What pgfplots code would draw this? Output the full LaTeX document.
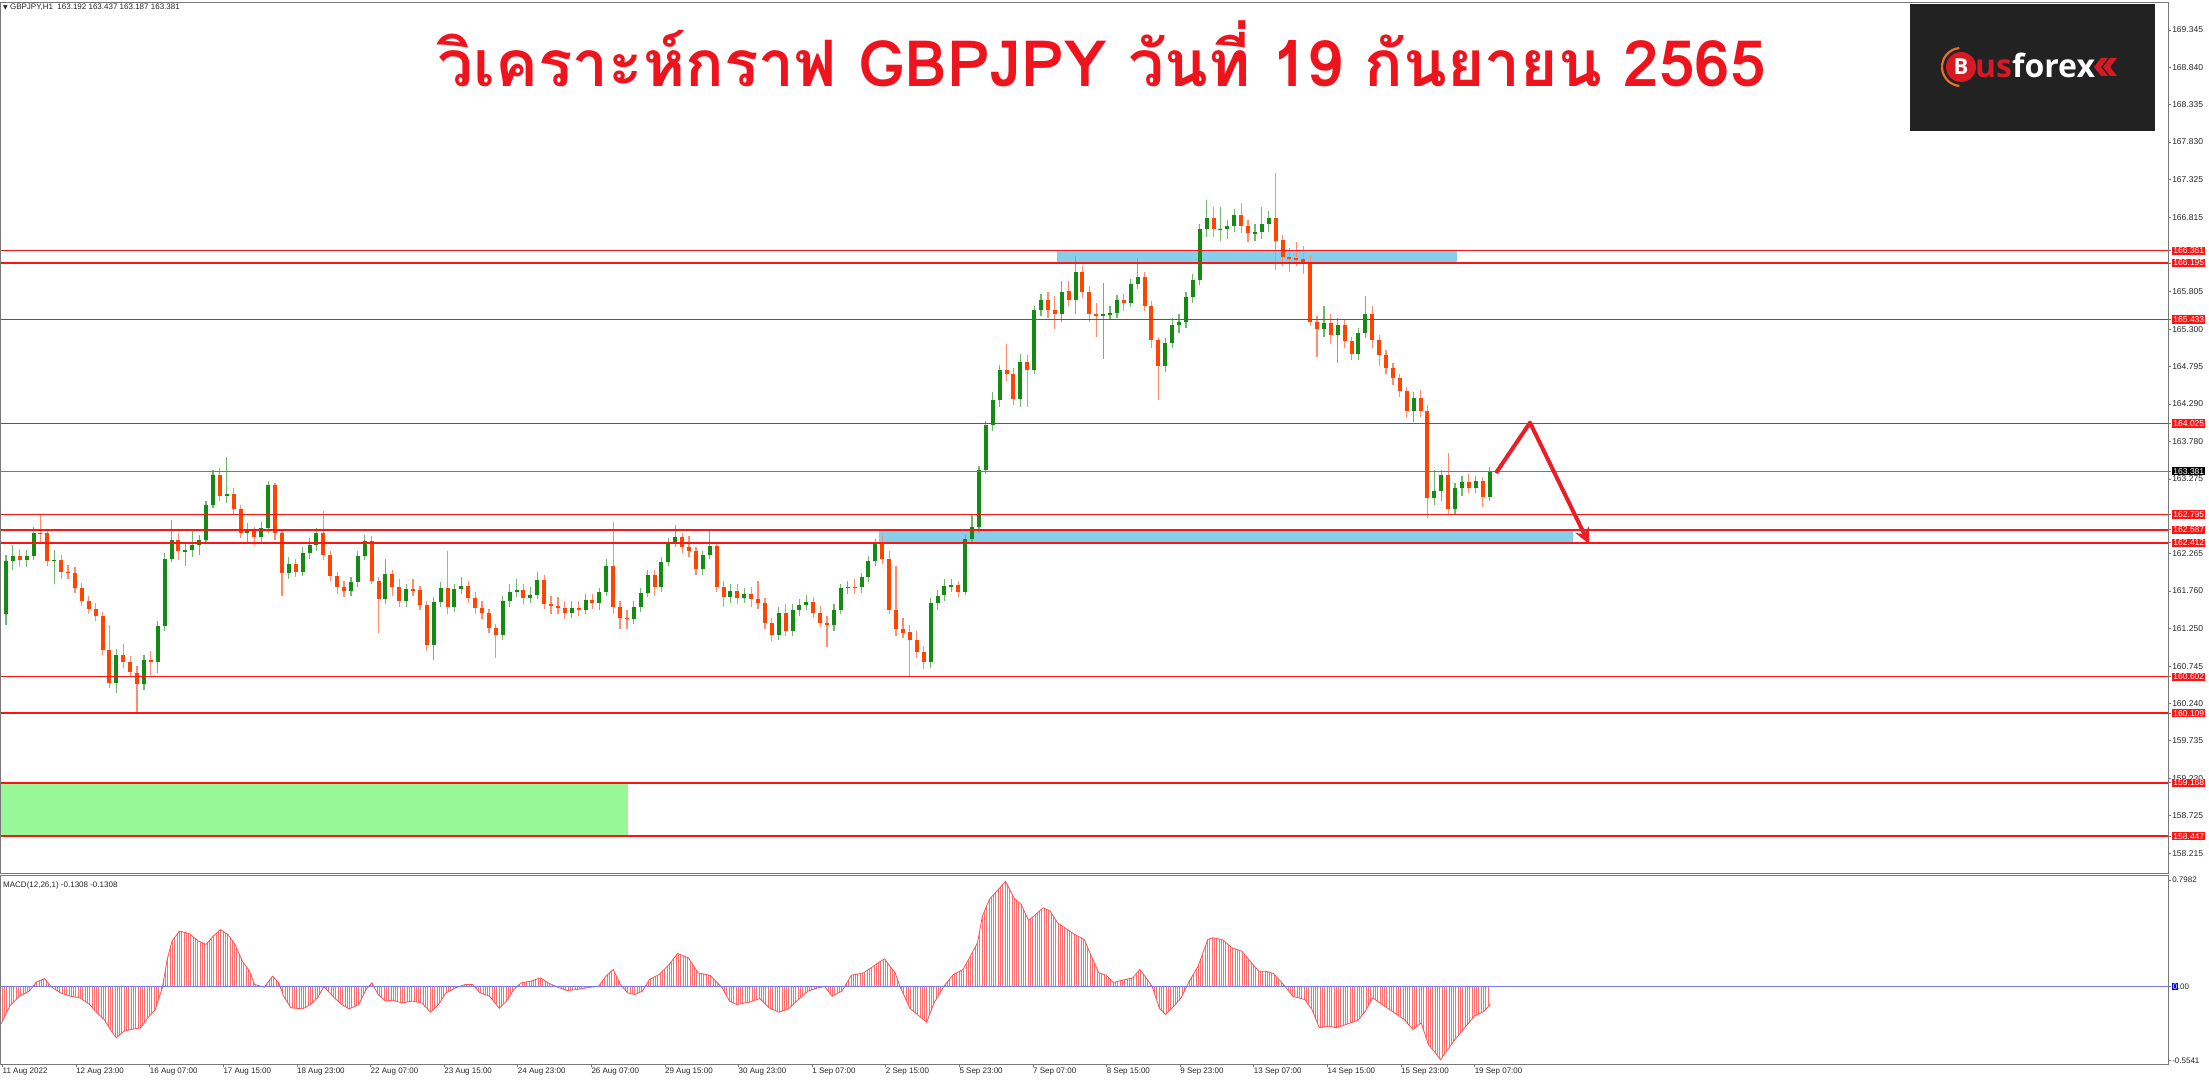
\documentclass[border=0pt]{standalone}
\usepackage{fontspec}
\setmainfont{Liberation Sans}
\newfontfamily\thaifont[Script=Thai]{Loma}
\newfontfamily\djv{DejaVu Sans}
\newfontfamily\logofont{Open Sans}
\usepackage{pgfplots}
\usepackage{pgfplotstable}
\pgfplotsset{compat=1.18}
\usetikzlibrary{arrows.meta,patterns.meta}

\definecolor{bull}{RGB}{20,140,20}
\definecolor{bullwick}{RGB}{110,185,110}
\definecolor{bear}{RGB}{255,69,0}
\definecolor{bearwick}{RGB}{255,140,110}
\definecolor{lvl}{RGB}{255,20,20}
\definecolor{zoneblue}{RGB}{135,206,235}
\definecolor{zonegreen}{RGB}{152,248,152}
\definecolor{frm}{RGB}{120,120,120}
\definecolor{macdline}{RGB}{255,80,80}
\definecolor{macdhatch}{RGB}{255,110,110}
\definecolor{zeroline}{RGB}{120,120,255}
\definecolor{titlered}{RGB}{238,20,30}
\definecolor{logobg}{RGB}{34,34,34}
\definecolor{logored}{RGB}{215,25,35}
\definecolor{logoorange}{RGB}{230,110,40}
\definecolor{arrowred}{RGB}{235,30,40}

\newcommand{\rl}[1]{{\setlength{\fboxsep}{1.2pt}\colorbox{lvl}{\textcolor{white}{#1}}}}
\newcommand{\bl}[1]{{\setlength{\fboxsep}{1.2pt}\colorbox{black}{\textcolor{white}{#1}}}}

\pgfplotstableread{
x o h l c
1.5 161.45 162.25 161.30 162.17
4.5 162.17 162.38 162.05 162.24
7.5 162.24 162.33 162.08 162.18
10.5 162.18 162.32 162.08 162.24
13.5 162.24 162.62 162.18 162.55
16.5 162.55 162.80 162.42 162.54
19.5 162.54 162.60 162.10 162.17
22.5 162.17 162.32 161.85 162.18
25.5 162.18 162.25 161.92 162.02
28.5 162.02 162.12 161.93 162.01
31.5 162.01 162.08 161.74 161.80
34.5 161.80 161.87 161.56 161.63
37.5 161.63 161.70 161.45 161.52
40.5 161.52 161.60 161.36 161.42
43.5 161.42 161.48 160.90 160.96
46.5 160.96 161.30 160.45 160.52
49.5 160.52 160.98 160.38 160.90
52.5 160.90 161.05 160.72 160.80
55.5 160.80 160.88 160.60 160.66
58.5 160.66 160.75 160.11 160.50
61.5 160.50 160.90 160.42 160.83
64.5 160.83 160.95 160.62 160.80
67.5 160.80 161.35 160.65 161.29
70.5 161.29 162.28 161.22 162.20
73.5 162.20 162.72 162.15 162.45
76.5 162.45 162.55 162.18 162.30
79.5 162.30 162.42 162.10 162.31
82.5 162.31 162.58 162.22 162.39
85.5 162.39 162.52 162.25 162.45
88.5 162.45 162.98 162.40 162.92
91.5 162.92 163.40 162.88 163.33
94.5 163.33 163.42 162.98 163.05
97.5 163.05 163.58 162.95 163.07
100.5 163.07 163.15 162.80 162.87
103.5 162.87 162.92 162.48 162.54
106.5 162.54 162.68 162.42 162.57
109.5 162.57 162.62 162.38 162.49
112.5 162.49 162.70 162.40 162.61
115.5 162.61 163.25 162.55 163.20
118.5 163.20 163.22 162.45 162.55
121.5 162.55 162.60 161.70 162.00
124.5 162.00 162.22 161.92 162.13
127.5 162.13 162.20 161.95 162.02
130.5 162.02 162.35 161.97 162.28
133.5 162.28 162.48 162.20 162.38
136.5 162.38 162.62 162.30 162.55
139.5 162.55 162.84 162.18 162.25
142.5 162.25 162.30 161.90 161.97
145.5 161.97 162.02 161.72 161.82
148.5 161.82 161.90 161.68 161.76
151.5 161.76 161.95 161.70 161.88
154.5 161.88 162.30 161.82 162.23
157.5 162.23 162.52 162.18 162.44
160.5 162.44 162.50 161.85 161.90
163.5 161.90 161.95 161.20 161.65
166.5 161.65 162.20 161.58 161.99
169.5 161.99 162.05 161.70 161.81
172.5 161.81 161.92 161.55 161.62
175.5 161.62 161.86 161.55 161.79
178.5 161.79 161.92 161.70 161.77
181.5 161.77 161.83 161.50 161.57
184.5 161.57 161.62 160.95 161.03
187.5 161.03 161.68 160.83 161.61
190.5 161.61 161.88 161.55 161.80
193.5 161.80 162.30 161.45 161.55
196.5 161.55 161.85 161.48 161.79
199.5 161.79 161.95 161.72 161.83
202.5 161.83 161.90 161.60 161.67
205.5 161.67 161.75 161.45 161.53
208.5 161.53 161.62 161.38 161.46
211.5 161.46 161.52 161.20 161.26
214.5 161.26 161.32 160.85 161.17
217.5 161.17 161.70 161.10 161.62
220.5 161.62 161.85 161.55 161.75
223.5 161.75 161.92 161.68 161.77
226.5 161.77 161.85 161.58 161.67
229.5 161.67 161.82 161.60 161.71
232.5 161.71 162.02 161.65 161.91
235.5 161.91 161.98 161.52 161.58
238.5 161.58 161.70 161.45 161.56
241.5 161.56 161.68 161.45 161.53
244.5 161.53 161.62 161.38 161.46
247.5 161.46 161.62 161.40 161.53
250.5 161.53 161.63 161.42 161.51
253.5 161.51 161.72 161.45 161.64
256.5 161.64 161.72 161.52 161.60
259.5 161.60 161.80 161.50 161.75
262.5 161.75 162.20 161.70 162.10
265.5 162.10 162.70 161.45 161.55
268.5 161.55 161.62 161.25 161.40
271.5 161.40 161.50 161.25 161.39
274.5 161.39 161.62 161.32 161.54
277.5 161.54 161.80 161.48 161.73
280.5 161.73 162.05 161.68 161.98
283.5 161.98 162.05 161.70 161.82
286.5 161.82 162.22 161.75 162.15
289.5 162.15 162.48 162.10 162.41
292.5 162.41 162.65 162.35 162.49
295.5 162.49 162.55 162.28 162.36
298.5 162.36 162.50 162.22 162.30
301.5 162.30 162.35 161.98 162.06
304.5 162.06 162.30 161.98 162.25
307.5 162.25 162.60 162.20 162.37
310.5 162.37 162.42 161.75 161.82
313.5 161.82 161.90 161.55 161.68
316.5 161.68 161.85 161.60 161.76
319.5 161.76 161.86 161.58 161.67
322.5 161.67 161.80 161.60 161.72
325.5 161.72 161.82 161.55 161.65
328.5 161.65 161.90 161.52 161.60
331.5 161.60 161.66 161.25 161.33
334.5 161.33 161.40 161.08 161.17
337.5 161.17 161.55 161.10 161.47
340.5 161.47 161.58 161.15 161.22
343.5 161.22 161.58 161.15 161.50
346.5 161.50 161.65 161.42 161.57
349.5 161.57 161.70 161.50 161.61
352.5 161.61 161.68 161.40 161.47
355.5 161.47 161.56 161.28 161.33
358.5 161.33 161.42 161.00 161.30
361.5 161.30 161.58 161.22 161.50
364.5 161.50 161.86 161.45 161.80
367.5 161.80 161.90 161.72 161.82
370.5 161.82 161.92 161.72 161.81
373.5 161.81 162.00 161.74 161.95
376.5 161.95 162.24 161.88 162.17
379.5 162.17 162.46 162.10 162.40
382.5 162.40 162.52 162.12 162.20
385.5 162.20 162.30 161.45 161.50
388.5 161.50 162.10 161.15 161.25
391.5 161.25 161.40 161.12 161.20
394.5 161.20 161.30 160.61 161.10
397.5 161.10 161.22 160.85 160.94
400.5 160.94 161.02 160.70 160.80
403.5 160.80 161.66 160.72 161.60
406.5 161.60 161.78 161.50 161.70
409.5 161.70 161.92 161.62 161.83
412.5 161.83 161.92 161.75 161.84
415.5 161.84 161.90 161.68 161.75
418.5 161.75 162.52 161.70 162.47
421.5 162.47 162.80 162.42 162.63
424.5 162.63 163.45 162.55 163.40
427.5 163.40 164.06 163.35 164.00
430.5 164.00 164.45 163.92 164.34
433.5 164.34 164.82 164.25 164.75
436.5 164.75 165.10 164.60 164.70
439.5 164.70 164.78 164.28 164.35
442.5 164.35 164.97 164.25 164.85
445.5 164.85 164.95 164.25 164.75
448.5 164.75 165.62 164.70 165.56
451.5 165.56 165.78 165.48 165.69
454.5 165.69 165.80 165.45 165.56
457.5 165.56 165.75 165.30 165.50
460.5 165.50 165.95 165.40 165.81
463.5 165.81 165.95 165.62 165.70
466.5 165.70 166.29 165.50 166.08
469.5 166.08 166.15 165.72 165.80
472.5 165.80 165.88 165.40 165.50
475.5 165.50 165.65 165.20 165.49
478.5 165.49 165.92 164.90 165.50
481.5 165.50 165.62 165.42 165.52
484.5 165.52 165.76 165.45 165.69
487.5 165.69 165.78 165.55 165.66
490.5 165.66 165.98 165.60 165.91
493.5 165.91 166.26 165.85 166.00
496.5 166.00 166.08 165.55 165.62
499.5 165.62 165.68 165.05 165.15
502.5 165.15 165.20 164.35 164.80
505.5 164.80 165.18 164.72 165.12
508.5 165.12 165.45 165.05 165.36
511.5 165.36 165.50 165.25 165.40
514.5 165.40 165.80 165.32 165.73
517.5 165.73 166.05 165.66 165.97
520.5 165.97 166.72 165.90 166.65
523.5 166.65 167.05 166.55 166.80
526.5 166.80 166.95 166.55 166.65
529.5 166.65 166.95 166.50 166.66
532.5 166.66 166.78 166.52 166.70
535.5 166.70 166.92 166.62 166.84
538.5 166.84 167.00 166.60 166.70
541.5 166.70 166.78 166.48 166.60
544.5 166.60 166.72 166.50 166.61
547.5 166.61 166.95 166.52 166.72
550.5 166.72 166.90 166.62 166.80
553.5 166.80 167.41 166.10 166.50
556.5 166.50 166.58 166.15 166.28
559.5 166.28 166.40 166.08 166.26
562.5 166.26 166.48 166.15 166.25
565.5 166.25 166.42 166.05 166.20
568.5 166.20 166.30 165.35 165.40
571.5 165.40 165.48 164.93 165.30
574.5 165.30 165.62 165.20 165.39
577.5 165.39 165.50 165.10 165.22
580.5 165.22 165.45 164.85 165.36
583.5 165.36 165.42 165.05 165.14
586.5 165.14 165.20 164.88 164.96
589.5 164.96 165.32 164.88 165.25
592.5 165.25 165.75 165.18 165.50
595.5 165.50 165.62 165.05 165.16
598.5 165.16 165.22 164.80 164.95
601.5 164.95 165.02 164.70 164.78
604.5 164.78 164.85 164.55 164.64
607.5 164.64 164.70 164.38 164.46
610.5 164.46 164.52 164.12 164.20
613.5 164.20 164.45 164.05 164.37
616.5 164.37 164.48 164.12 164.20
619.5 164.20 164.28 162.75 163.02
622.5 163.02 163.40 162.92 163.11
625.5 163.11 163.40 162.98 163.33
628.5 163.33 163.62 162.80 162.87
631.5 162.87 163.22 162.80 163.15
634.5 163.15 163.32 163.05 163.23
637.5 163.23 163.35 163.08 163.16
640.5 163.16 163.32 163.08 163.25
643.5 163.25 163.30 162.90 163.03
646.5 163.03 163.44 162.98 163.38
}\candles

\pgfplotstableread{
x m
-0.6 -0.280
3.1 -0.148
7.3 -0.073
11.6 -0.035
14.7 0.033
18.3 0.060
21.0 0.000
25.3 -0.048
29.5 -0.073
33.7 -0.085
37.9 -0.135
41.1 -0.198
44.2 -0.248
47.4 -0.336
49.5 -0.386
52.7 -0.336
55.8 -0.323
60.0 -0.311
63.2 -0.235
66.4 -0.173
69.5 -0.010
71.6 0.203
73.7 0.340
76.9 0.416
81.1 0.398
85.3 0.340
88.5 0.316
91.6 0.378
94.8 0.428
98.0 0.390
101.1 0.316
104.3 0.190
107.4 0.115
109.6 0.015
113.8 -0.005
117.4 0.078
120.1 0.028
122.2 -0.073
125.4 -0.160
130.6 -0.168
133.8 -0.135
137.0 -0.085
139.7 0.000
144.3 -0.085
147.5 -0.135
150.7 -0.168
154.9 -0.135
158.0 -0.023
160.6 0.028
163.3 -0.060
166.5 -0.110
169.6 -0.103
173.8 -0.123
178.0 -0.110
182.3 -0.123
186.1 -0.193
189.6 -0.135
192.8 -0.048
197.0 -0.010
201.2 0.015
204.4 0.015
207.6 -0.048
211.8 -0.073
216.0 -0.163
219.1 -0.110
222.3 -0.023
225.5 0.028
229.7 0.040
233.9 0.065
237.1 0.028
241.3 -0.005
245.5 -0.030
249.7 -0.023
253.9 -0.010
259.2 0.003
262.4 0.078
265.5 0.128
268.7 0.015
271.8 -0.048
275.0 -0.060
278.2 -0.035
281.3 0.053
285.5 0.090
289.8 0.165
293.5 0.248
298.2 0.215
302.4 0.103
307.7 0.083
312.9 -0.010
316.1 -0.110
319.2 -0.135
324.7 -0.118
329.2 -0.090
333.3 -0.160
337.5 -0.193
341.7 -0.168
346.0 -0.098
350.2 -0.035
354.4 -0.010
357.5 0.000
360.7 -0.073
364.9 -0.035
369.1 0.085
374.4 0.103
377.6 0.140
380.7 0.178
383.5 0.208
386.0 0.148
388.1 0.103
390.2 0.000
394.4 -0.160
398.6 -0.223
401.8 -0.268
405.0 -0.123
409.2 0.000
413.4 0.090
417.6 0.128
420.8 0.228
423.9 0.328
426.0 0.528
429.2 0.659
432.3 0.716
436.1 0.790
439.7 0.666
442.9 0.616
446.1 0.496
449.2 0.541
452.4 0.591
455.5 0.566
458.7 0.478
461.9 0.441
466.1 0.391
470.3 0.353
473.4 0.228
476.6 0.103
479.8 0.085
482.9 0.030
487.1 0.048
491.4 0.065
494.5 0.128
497.7 0.053
499.8 0.000
503.0 -0.163
505.7 -0.210
509.3 -0.148
512.4 -0.085
515.6 0.028
519.8 0.153
524.0 0.353
526.1 0.366
530.3 0.353
534.6 0.290
538.8 0.265
543.0 0.178
546.2 0.115
549.3 0.115
552.5 0.098
555.6 0.040
557.7 0.000
560.9 -0.073
566.2 -0.098
569.3 -0.173
572.5 -0.310
576.7 -0.298
579.9 -0.310
584.1 -0.285
589.4 -0.253
592.5 -0.185
595.7 -0.085
598.8 -0.123
604.1 -0.185
609.4 -0.248
613.2 -0.323
616.8 -0.273
619.9 -0.436
622.4 -0.486
625.2 -0.550
628.3 -0.473
631.5 -0.398
635.7 -0.310
639.9 -0.223
644.2 -0.185
646.9 -0.131
}\macd

\begin{document}
\begin{tikzpicture}[x=1pt,y=1pt]
\useasboundingbox (0,0) rectangle (2209,1080);
\fill[white] (0,0) rectangle (2209,1080);

% ---------------- main price panel ----------------
\begin{axis}[
  at={(1pt,207pt)}, anchor=south west, scale only axis,
  width=2167pt, height=870pt,
  xmin=-0.65, xmax=941.5, ymin=157.9485, ymax=169.71,
  axis line style={draw=frm, line width=1pt},
  xtick=\empty,
  ytick pos=right, yticklabel pos=right,
  tick align=outside, major tick length=3pt,
  tick style={draw=frm, line width=0.8pt},
  yticklabel style={font=\fontsize{8.5}{10}\selectfont, anchor=west, inner sep=0pt, xshift=1pt, text=black!85},
  ytick={169.345,168.840,168.335,167.830,167.325,166.815,165.805,165.300,164.795,164.290,163.780,163.275,162.265,161.760,161.250,160.745,160.240,159.735,159.230,158.725,158.215,166.361,166.195,165.433,164.025,162.795,162.587,162.412,160.602,160.109,159.168,158.447,163.381},
  yticklabels={169.345,168.840,168.335,167.830,167.325,166.815,165.805,165.300,164.795,164.290,163.780,163.275,162.265,161.760,161.250,160.745,160.240,159.735,159.230,158.725,158.215,\rl{166.361},\rl{166.195},\rl{165.433},\rl{164.025},\rl{162.795},\rl{162.587},\rl{162.412},\rl{160.602},\rl{160.109},\rl{159.168},\rl{158.447},\bl{163.381}},
]
% zones
\addplot[fill=zonegreen, draw=none, forget plot] coordinates {(-0.65,159.168) (272.1,159.168) (272.1,158.447) (-0.65,158.447)} -- cycle;
\addplot[fill=zoneblue, draw=none, forget plot] coordinates {(458.5,166.361) (632.4,166.361) (632.4,166.195) (458.5,166.195)} -- cycle;
\addplot[fill=zoneblue, draw=none, forget plot] coordinates {(381.2,162.587) (683.0,162.587) (683.0,162.412) (381.2,162.412)} -- cycle;

% wicks
\addplot[draw=none, mark=none, forget plot,
  x filter/.expression={\thisrow{c}>=\thisrow{o} ? x : nan},
  error bars/.cd, y dir=both, y explicit, error mark=none,
  error bar style={draw=bullwick, line width=1.2pt}]
  table[x=x, y expr={(\thisrow{h}+\thisrow{l})/2}, y error expr={(\thisrow{h}-\thisrow{l})/2}] \candles;
\addplot[draw=none, mark=none, forget plot,
  x filter/.expression={\thisrow{c}<\thisrow{o} ? x : nan},
  error bars/.cd, y dir=both, y explicit, error mark=none,
  error bar style={draw=bearwick, line width=1.2pt}]
  table[x=x, y expr={(\thisrow{h}+\thisrow{l})/2}, y error expr={(\thisrow{h}-\thisrow{l})/2}] \candles;
% bodies
\addplot[draw=none, mark=none, forget plot,
  x filter/.expression={\thisrow{c}>=\thisrow{o} ? x : nan},
  error bars/.cd, y dir=both, y explicit, error mark=none,
  error bar style={draw=bull, line width=4pt}]
  table[x=x, y expr={(\thisrow{o}+\thisrow{c})/2}, y error expr={max(abs(\thisrow{c}-\thisrow{o})/2,0.006)}] \candles;
\addplot[draw=none, mark=none, forget plot,
  x filter/.expression={\thisrow{c}<\thisrow{o} ? x : nan},
  error bars/.cd, y dir=both, y explicit, error mark=none,
  error bar style={draw=bear, line width=4pt}]
  table[x=x, y expr={(\thisrow{o}+\thisrow{c})/2}, y error expr={max(abs(\thisrow{c}-\thisrow{o})/2,0.006)}] \candles;

% horizontal levels
\addplot[lvl, line width=1.5pt, forget plot] coordinates {(-0.65,166.361) (941.5,166.361)};
\addplot[lvl, line width=1.5pt, forget plot] coordinates {(-0.65,166.195) (941.5,166.195)};
\addplot[lvl, line width=1.5pt, forget plot] coordinates {(-0.65,165.433) (941.5,165.433)};
\addplot[lvl, line width=1.5pt, forget plot] coordinates {(-0.65,164.025) (941.5,164.025)};
\addplot[lvl, line width=1.5pt, forget plot] coordinates {(-0.65,162.795) (941.5,162.795)};
\addplot[lvl, line width=1.5pt, forget plot] coordinates {(-0.65,162.587) (941.5,162.587)};
\addplot[lvl, line width=1.5pt, forget plot] coordinates {(-0.65,162.412) (941.5,162.412)};
\addplot[lvl, line width=1.5pt, forget plot] coordinates {(-0.65,160.602) (941.5,160.602)};
\addplot[lvl, line width=1.5pt, forget plot] coordinates {(-0.65,160.109) (941.5,160.109)};
\addplot[lvl, line width=1.5pt, forget plot] coordinates {(-0.65,159.168) (941.5,159.168)};
\addplot[lvl, line width=1.5pt, forget plot] coordinates {(-0.65,158.447) (941.5,158.447)};
\addplot[frm, line width=1.3pt, forget plot] coordinates {(-0.65,163.381) (941.5,163.381)};

% forecast arrow
\addplot[arrowred, line width=4pt, line join=round, forget plot, -{Stealth[length=16pt,width=15pt]}]
  coordinates {(649.3,163.356) (664.1,164.037) (689.8,162.396)};
\end{axis}

% ---------------- MACD panel ----------------
\begin{axis}[
  at={(1pt,16pt)}, anchor=south west, scale only axis,
  width=2167pt, height=188pt,
  xmin=-0.65, xmax=941.5, ymin=-0.582, ymax=0.830,
  axis line style={draw=frm, line width=1pt},
  tick align=outside, major tick length=3pt,
  tick style={draw=frm, line width=0.8pt},
  xtick pos=bottom, ytick pos=right, yticklabel pos=right,
  xtick={0,32,64,96,128,160,192,224,256,288,320,352,384,416,448,480,512,544,576,608,640},
  xticklabels={11 Aug 2022,12 Aug 23:00,16 Aug 07:00,17 Aug 15:00,18 Aug 23:00,22 Aug 07:00,23 Aug 15:00,24 Aug 23:00,26 Aug 07:00,29 Aug 15:00,30 Aug 23:00,1 Sep 07:00,2 Sep 15:00,5 Sep 23:00,7 Sep 07:00,8 Sep 15:00,9 Sep 23:00,13 Sep 07:00,14 Sep 15:00,15 Sep 23:00,19 Sep 07:00},
  xticklabel style={font=\fontsize{8}{9}\selectfont, anchor=north west, inner sep=0pt, yshift=-1pt, text=black!85},
  ytick={-0.5541,0,0.7982},
  yticklabels={-0.5541,{{\setlength{\fboxsep}{0.6pt}\colorbox{blue}{\textcolor{white}{0}}}.00},0.7982},
  yticklabel style={font=\fontsize{8}{9}\selectfont, anchor=west, inner sep=0pt, xshift=1pt, text=black!85},
]
\addplot[draw=none, pattern={Lines[angle=90,distance=2.3pt,line width=0.9pt]}, pattern color=macdhatch, forget plot] table[x=x, y=m] \macd \closedcycle;
\addplot[macdline, line width=0.8pt, forget plot] table[x=x, y=m] \macd;
\addplot[zeroline, line width=1.2pt, forget plot] coordinates {(-0.65,0) (941.5,0)};
\end{axis}

% ---------------- texts ----------------
\node[anchor=west, inner sep=0pt, font=\fontsize{8}{9}\selectfont, text=black!85] at (3,1073) {{\djv\fontsize{6}{7}\selectfont ▼} GBPJPY,H1\ \ 163.192 163.437 163.187 163.381};
\node[anchor=west, inner sep=0pt, font=\fontsize{8}{9}\selectfont, text=black!85] at (3,195) {MACD(12,26,1) -0.1308 -0.1308};

\node[anchor=base, inner sep=0pt, text=titlered, font=\thaifont\bfseries\fontsize{64}{70}\selectfont] at (1102,993) {วิเคราะห์กราฟ GBPJPY วันที่ 19 กันยายน 2565};

% logo
\fill[logobg] (1910,949) rectangle (2155,1076);
\draw[logoorange, line width=2.2pt] (1961,1013) ++(95:19) arc (95:265:19);
\fill[logored] (1961,1013) circle (15);
\node[font=\logofont\bfseries\fontsize{22}{24}\selectfont, text=white, inner sep=0pt] at (1961,1013) {B};
\node[anchor=base west, inner sep=0pt, font=\logofont\bfseries\fontsize{32}{34}\selectfont] at (1975,1002) {\textcolor{logored}{us}\textcolor{white}{forex}};
\fill[logored] (2101,1022) -- (2108,1022) -- (2101,1013) -- (2108,1004) -- (2101,1004) -- (2094,1013) -- cycle;
\fill[logored] (2110,1022) -- (2117,1022) -- (2110,1013) -- (2117,1004) -- (2110,1004) -- (2103,1013) -- cycle;
\end{tikzpicture}
\end{document}
